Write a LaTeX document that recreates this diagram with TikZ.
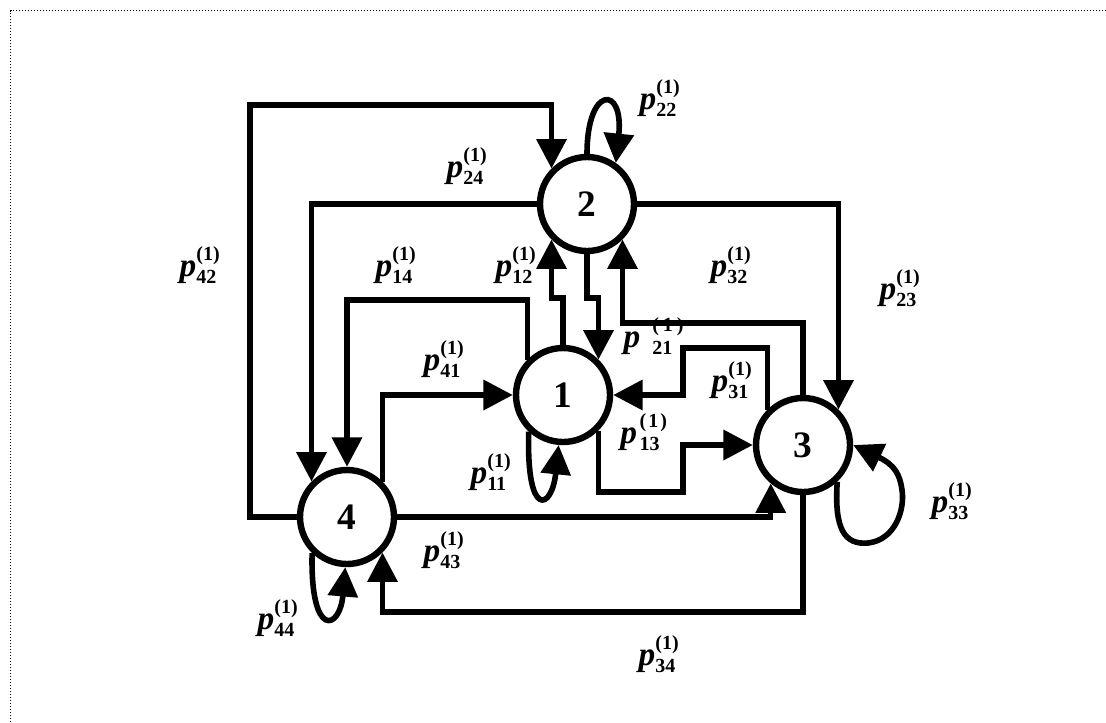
\documentclass[tikz,border=0pt]{standalone}
\usepackage{fontspec}
\setmainfont{Liberation Serif}
\usepackage{amsmath}
\DeclareMathSizes{25}{25}{15}{11}
\usetikzlibrary{arrows.meta}

% transition probability label p_{ij}^{(1)}
\newcommand\pl[1]{$\textbf{\textit{p}}^{\textbf{(1)}}_{\textbf{#1}}$}

\begin{document}
\begin{tikzpicture}[x=0.75pt,y=-0.75pt,
  state/.style={circle,draw,line width=4.8pt,minimum size=70.5pt,inner sep=0pt,
    font=\fontsize{28}{32}\selectfont\bfseries},
  link/.style={line width=4pt,-{Triangle[length=22pt,width=22pt]}},
  selfloop/.style={line width=4.2pt,-{Triangle[length=22pt,width=22pt]}},
  prob/.style={inner sep=0pt,font=\fontsize{25}{29}\selectfont}]

\fill[white] (0,0) rectangle (1106,722);
\useasboundingbox (0,0) rectangle (1106,722);
\draw[line width=0.75pt,dash pattern=on 0.75pt off 1.5pt] (1106,10.5) -- (10.5,10.5) -- (10.5,722);

% states
\node[state] (n1) at (563,395) {1};
\node[state] (n2) at (587,204) {2};
\node[state] (n3) at (803,445) {3};
\node[state] (n4) at (347,517) {4};

% transitions between states
\draw[link] (n4.west) -| (250,105) -| (n2.135);
\draw[link] (n2.west) -| (n4.135);
\draw[link] (n1.135) |- (347,300) -- (n4.north);
\draw[link] (n1.north) -- (563,298) -| (n2.225);
\draw[link] (n2.south) -- (587,298) -| (n1.45);
\draw[link] (n3.north) -- (803,323) -| (n2.315);
\draw[link] (n2.east) -| (n3.45);
\draw[link] (n3.135) |- (683,348) |- (n1.east);
\draw[link] (n1.315) |- (683,492) |- (n3.west);
\draw[link] (n4.45) |- (n1.west);
\draw[link] (n4.east) -| (n3.230);
\draw[link] (n3.south) -- (803,612) -| (n4.315);

% self transitions
\draw[selfloop] (n2.north) .. controls (587,85) and (624,85) .. (n2.55);
\draw[selfloop] (n1.227) .. controls (526,520) and (552,510) .. (n1.265);
\draw[selfloop] (n4.226) .. controls (310,640) and (340,630) .. (n4.268);
\draw[selfloop] (n3.313) .. controls (834,530) and (845,545) .. (868,543)
  .. controls (895,540) and (905,510) .. (902,490)
  .. controls (900,475) and (895,465) .. (n3.0);

% probability labels
\node[prob] (l22) at (660,98) {\pl{22}};
\node[prob] (l24) at (467,166) {\pl{24}};
\node[prob] (l42) at (200,265) {\pl{42}};
\node[prob] (l14) at (396,265) {\pl{14}};
\node[prob] (l12) at (516,265) {\pl{12}};
\node[prob] (l32) at (731,265) {\pl{32}};
\node[prob] (l23) at (900,288) {\pl{23}};
\node[prob] (l41) at (444,359) {\pl{41}};
\node[prob] (l21) at (654,336) {\textbf{\textit{p}}\hspace{9pt}${}^{\textbf{(\hspace{3pt}1\hspace{3pt})}}_{\textbf{21}}$};
\node[prob] (l31) at (732,380) {\pl{31}};
\node[prob] (l13) at (644,432) {\textbf{\textit{p}}\hspace{2pt}${}^{\textbf{(\hspace{1.5pt}1\hspace{1.5pt})}}_{\textbf{13}}$};
\node[prob] (l11) at (491,472) {\pl{11}};
\node[prob] (l43) at (444,550) {\pl{43}};
\node[prob] (l44) at (278,618) {\pl{44}};
\node[prob] (l33) at (952,501) {\pl{33}};
\node[prob] (l34) at (659,654) {\pl{34}};
\end{tikzpicture}
\end{document}
